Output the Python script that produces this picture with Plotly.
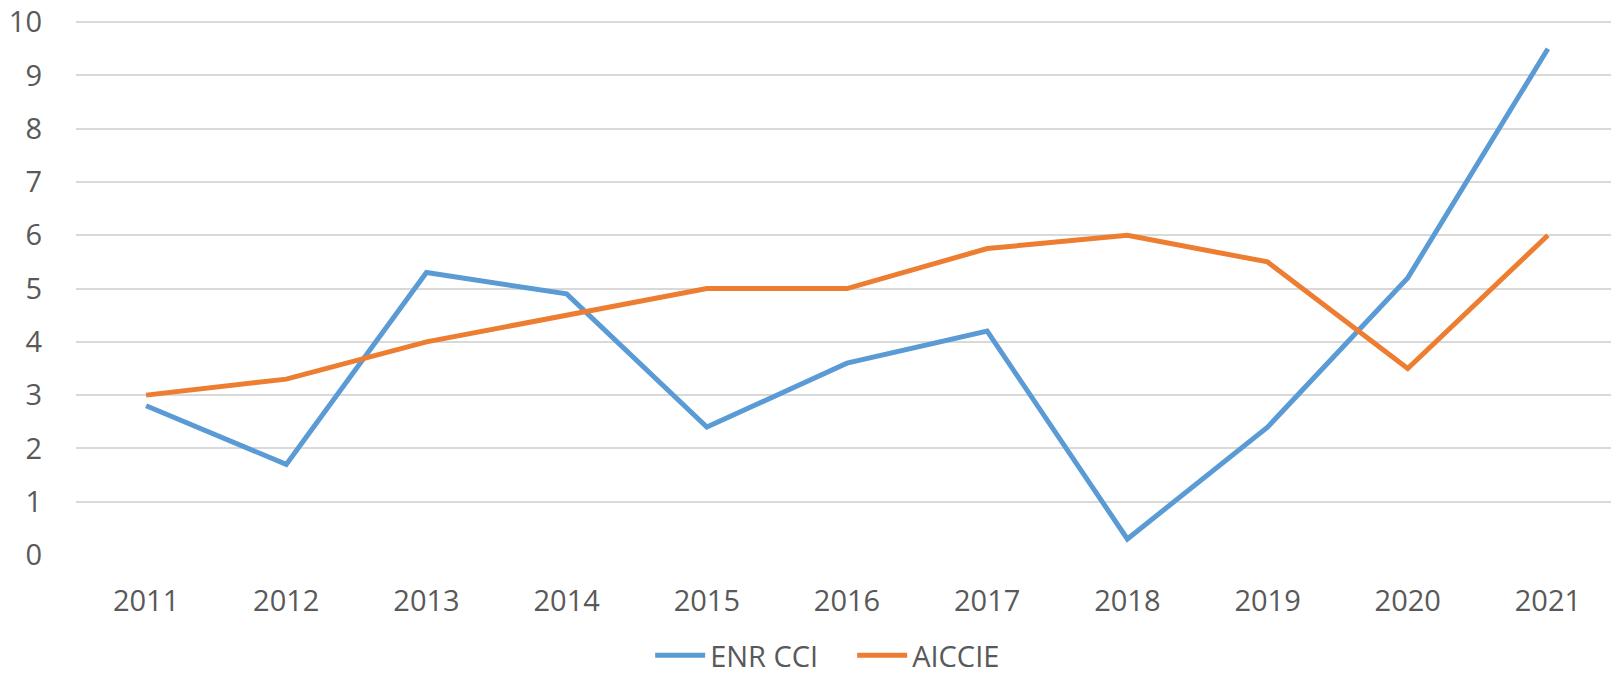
import plotly.graph_objects as go

years = ["2011", "2012", "2013", "2014", "2015", "2016", "2017", "2018", "2019", "2020", "2021"]
enr_cci = [2.8, 1.7, 5.3, 4.9, 2.4, 3.6, 4.2, 0.3, 2.4, 5.2, 9.5]
aiccie = [3.0, 3.3, 4.0, 4.5, 5.0, 5.0, 5.75, 6.0, 5.5, 3.5, 6.0]
y_ticks = [0, 1, 2, 3, 4, 5, 6, 7, 8, 9, 10]

font_family = "Open Sans, Noto Sans, sans-serif"
text_color = "#595959"
fsize = 29

fig = go.Figure()
fig.add_trace(go.Scatter(x=years, y=enr_cci, mode="lines", name="ENR CCI",
                         line=dict(color="#5B9BD5", width=5, shape="linear")))
fig.add_trace(go.Scatter(x=years, y=aiccie, mode="lines", name="AICCIE",
                         line=dict(color="#ED7D31", width=5, shape="linear")))

fig.update_layout(
    width=1611, height=673,
    margin=dict(l=68, r=1, t=12, b=126),
    paper_bgcolor="white", plot_bgcolor="white",
    font=dict(family=font_family, size=fsize, color=text_color),
    showlegend=True,
    legend=dict(orientation="h", xref="container", yref="container",
                x=0.524, xanchor="center", y=-0.012, yanchor="bottom",
                font=dict(size=fsize, color=text_color),
                entrywidth=137, entrywidthmode="pixels",
                itemwidth=50, tracegroupgap=0),
    xaxis=dict(type="category", range=[-0.5, 10.5], showgrid=False,
               showline=False, zeroline=False, ticks="", automargin=False,
               ticklabelstandoff=26, ticklabeloverflow="allow",
               tickfont=dict(size=fsize, color=text_color)),
    yaxis=dict(range=[-0.0005, 10.04], tickvals=y_ticks, showgrid=True, automargin=False,
               gridcolor="#D9D9D9", gridwidth=2, zeroline=False, showline=False,
               ticks="", ticklabelstandoff=33, ticklabeloverflow="allow",
               tickfont=dict(size=fsize, color=text_color)),
)

fig.write_html("out.html")
